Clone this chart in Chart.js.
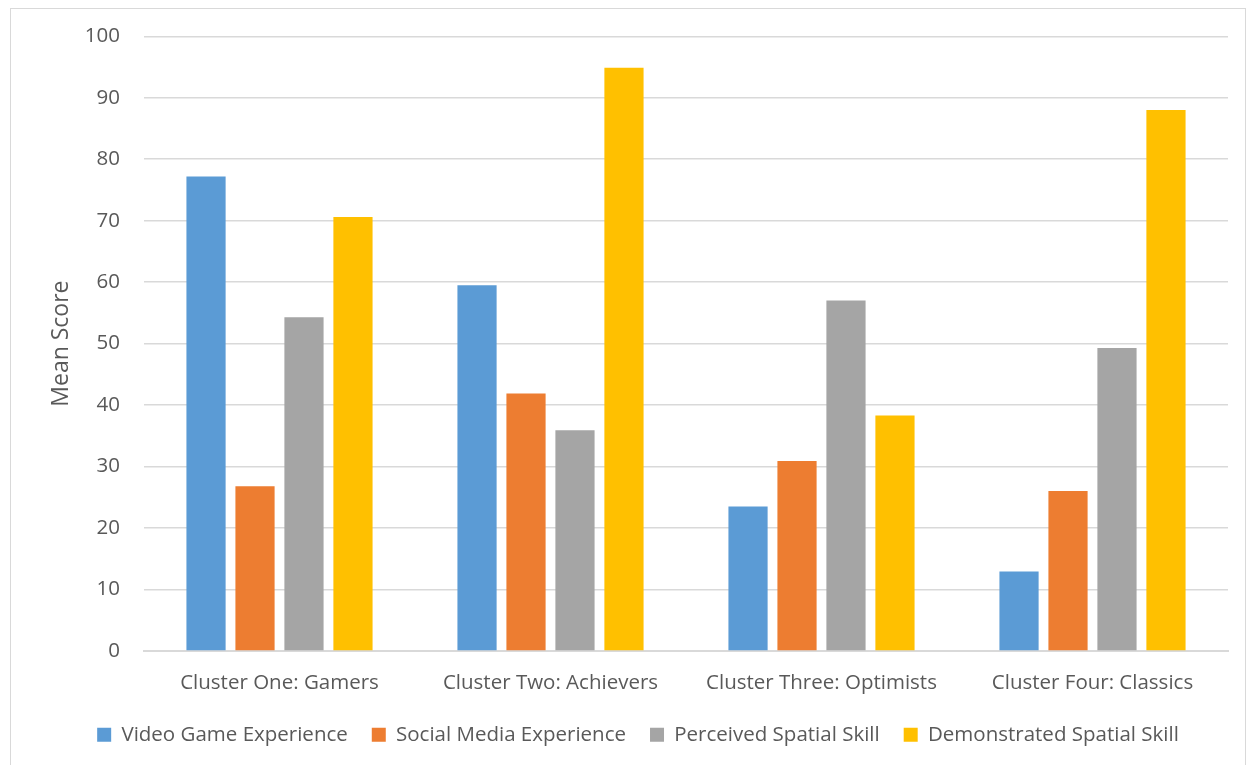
<!DOCTYPE html>
<html>
<head>
<meta charset="utf-8">
<script src="https://cdn.jsdelivr.net/npm/chart.js@4/dist/chart.umd.min.js"></script>
<style>
  html, body { margin: 0; padding: 0; background: #ffffff; }
  #wrap { position: relative; width: 1254px; height: 765px; overflow: hidden; }
  #frame { position: absolute; left: 10px; top: 8px; width: 1236px; height: 770px; border: 1.5px solid #d9d9d9; box-sizing: border-box; }
  canvas { position: absolute; left: 0; top: 0; }
</style>
</head>
<body>
<div id="wrap">
  <div id="frame"></div>
  <canvas id="c" width="1254" height="765"></canvas>
</div>
<script>
const categories = ["Cluster One: Gamers", "Cluster Two: Achievers", "Cluster Three: Optimists", "Cluster Four: Classics"];
const videoGame = [77.2, 59.5, 23.5, 12.9];
const socialMedia = [26.8, 41.9, 30.9, 26.0];
const perceivedSpatial = [54.3, 35.9, 57.0, 49.3];
const demonstratedSpatial = [70.6, 94.9, 38.3, 88.0];
const seriesNames = ["Video Game Experience", "Social Media Experience", "Perceived Spatial Skill", "Demonstrated Spatial Skill"];
const seriesColors = ["#5b9bd5", "#ed7d31", "#a5a5a5", "#ffc000"];
const yTicks = [0, 10, 20, 30, 40, 50, 60, 70, 80, 90, 100];

const fontFamily = "'Open Sans', 'Liberation Sans', sans-serif";
const textColor = "#595959";

const data = {
  labels: categories,
  datasets: [videoGame, socialMedia, perceivedSpatial, demonstratedSpatial].map((vals, i) => ({
    label: seriesNames[i],
    data: vals,
    backgroundColor: seriesColors[i],
    borderWidth: 0,
    categoryPercentage: 0.723,
    barPercentage: 0.8
  }))
};

new Chart(document.getElementById('c'), {
  type: 'bar',
  data: data,
  options: {
    responsive: false,
    animation: false,
    devicePixelRatio: 1,
    layout: { padding: { left: 48, right: 26, top: 35, bottom: 10 } },
    plugins: {
      legend: {
        position: 'bottom',
        labels: {
          color: textColor,
          font: { family: fontFamily, size: 20.5 },
          boxWidth: 14,
          boxHeight: 14,
          padding: 24
        }
      },
      tooltip: { enabled: false }
    },
    scales: {
      x: {
        grid: { display: false, drawTicks: false },
        border: { display: true, color: "#d9d9d9", width: 2 },
        ticks: { color: textColor, font: { family: fontFamily, size: 20.5 }, padding: 20 },
        afterFit: (axis) => { axis.height = axis.height - 15; }
      },
      y: {
        min: 0,
        max: 100,
        afterBuildTicks: (axis) => { axis.ticks = yTicks.map(v => ({ value: v })); },
        grid: { color: "#d9d9d9", lineWidth: 1.5, drawTicks: false },
        border: { display: false },
        ticks: { color: textColor, font: { family: fontFamily, size: 20.5 }, padding: 24 },
        title: {
          display: true,
          text: "Mean Score",
          color: textColor,
          font: { family: fontFamily, size: 23 },
          padding: { top: 0, bottom: 0 }
        },
        afterFit: (axis) => { axis.width = 96; }
      }
    }
  }
});
</script>
</body>
</html>
